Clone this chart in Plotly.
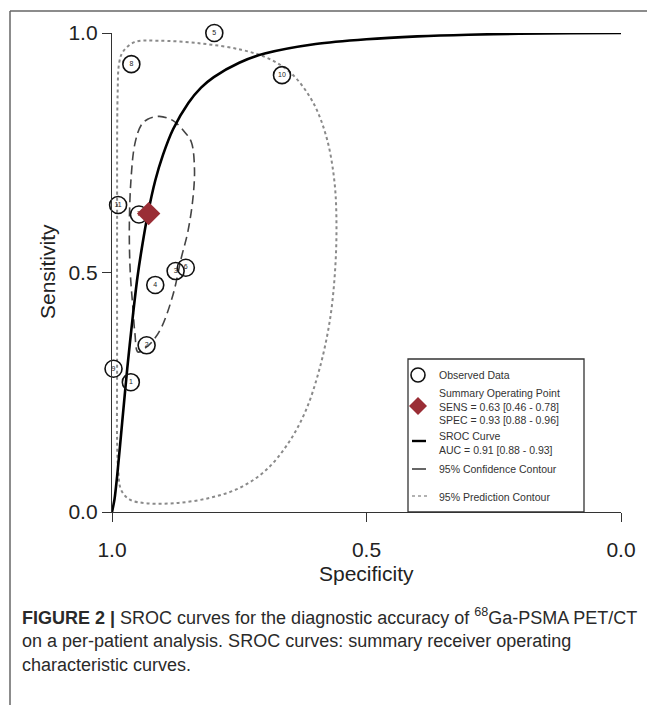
import plotly.graph_objects as go

# ---------------- data ----------------
study_ids = ["1", "2", "3", "4", "5", "6", "7", "8", "9", "10", "11"]
study_spec = [0.963, 0.932, 0.875, 0.915, 0.799, 0.855, 0.947, 0.962, 0.997, 0.666, 0.988]
study_sens = [0.271, 0.348, 0.503, 0.474, 1.000, 0.510, 0.621, 0.935, 0.299, 0.912, 0.641]

summary_spec = [0.928]
summary_sens = [0.623]

sroc_spec = [1.000, 0.995, 0.990, 0.980, 0.970, 0.960, 0.950, 0.940, 0.930, 0.915,
             0.900, 0.880, 0.850, 0.825, 0.800, 0.750, 0.700, 0.600, 0.500,
             0.400, 0.300, 0.200, 0.100, 0.000]
sroc_sens = [0.000, 0.027, 0.074, 0.187, 0.300, 0.400, 0.490, 0.560, 0.620, 0.692,
             0.745, 0.799, 0.854, 0.886, 0.908, 0.938, 0.957, 0.977, 0.987,
             0.993, 0.9965, 0.9984, 0.9995, 1.000]

conf_spec = [0.949, 0.935, 0.920, 0.903, 0.880, 0.864, 0.851, 0.841, 0.838, 0.844,
             0.857, 0.880, 0.907, 0.930, 0.943, 0.955, 0.963, 0.966, 0.964, 0.959,
             0.955, 0.949]
conf_sens = [0.334, 0.342, 0.357, 0.385, 0.454, 0.530, 0.585, 0.655, 0.717, 0.772,
             0.793, 0.817, 0.826, 0.820, 0.807, 0.769, 0.689, 0.586, 0.498, 0.427,
             0.373, 0.334]

pred_spec = [0.990, 0.990, 0.989, 0.986, 0.979, 0.956, 0.910, 0.824, 0.746, 0.693,
             0.647, 0.605, 0.578, 0.563, 0.559, 0.562, 0.572, 0.592, 0.620, 0.656,
             0.700, 0.750, 0.806, 0.870, 0.930, 0.965, 0.982, 0.988, 0.990, 0.990]
pred_sens = [0.300, 0.600, 0.870, 0.937, 0.960, 0.981, 0.984, 0.978, 0.965, 0.947,
             0.915, 0.855, 0.780, 0.690, 0.600, 0.500, 0.400, 0.300, 0.210, 0.140,
             0.085, 0.050, 0.030, 0.019, 0.018, 0.026, 0.046, 0.090, 0.150, 0.300]

tick_vals = [0.0, 0.5, 1.0]
tick_text = ["0.0", "0.5", "1.0"]

legend_labels = [
    "Observed Data",
    "Summary Operating Point<br>SENS = 0.63 [0.46 - 0.78]<br>SPEC = 0.93 [0.88 - 0.96]",
    "SROC Curve<br>AUC = 0.91 [0.88 - 0.93]",
    "95% Confidence Contour",
    "95% Prediction Contour",
]

caption_lines = [
    "<b>FIGURE 2 |</b> SROC curves for the diagnostic accuracy of <sup>68</sup>Ga-PSMA PET/CT",
    "on a per-patient analysis. SROC curves: summary receiver operating",
    "characteristic curves.",
]

# ---------------- layout geometry (pixels) ----------------
W, H = 655, 705
L, R, T, B = 104, 613, 25, 504
FONT = "Liberation Sans, Arial, Helvetica, sans-serif"


def px(x):
    return (x - L) / (R - L)


def py(y):
    return (B - y) / (B - T)


fig = go.Figure()

fig.add_trace(go.Scatter(
    x=pred_spec, y=pred_sens, mode="lines",
    line=dict(color="#8a8a8a", width=2, dash="dot", shape="spline", smoothing=1.0),
    cliponaxis=False, hoverinfo="skip", showlegend=False))

fig.add_trace(go.Scatter(
    x=conf_spec, y=conf_sens, mode="lines",
    line=dict(color="#444444", width=1.6, dash="9px,5px", shape="spline", smoothing=1.0),
    cliponaxis=False, hoverinfo="skip", showlegend=False))

fig.add_trace(go.Scatter(
    x=sroc_spec, y=sroc_sens, mode="lines",
    line=dict(color="#000000", width=2.6, shape="spline", smoothing=0.8),
    cliponaxis=False, hoverinfo="skip", showlegend=False))

fig.add_trace(go.Scatter(
    x=study_spec, y=study_sens, mode="markers+text", text=study_ids,
    textposition="middle center", textfont=dict(size=7, color="#222", family=FONT),
    marker=dict(symbol="circle", size=17, color="rgba(0,0,0,0)", line=dict(color="#111111", width=1.6)),
    cliponaxis=False, showlegend=False))

fig.add_trace(go.Scatter(
    x=summary_spec, y=summary_sens, mode="markers",
    marker=dict(symbol="diamond", size=18, color="#9a2d35", line=dict(width=0)),
    cliponaxis=False, showlegend=False))

shapes = []
annotations = []

# outer frame
FX, FY = 2, 3
shapes.append(dict(type="line", xref="paper", yref="paper", x0=px(FX), x1=px(FX), y0=py(FY), y1=py(710),
                   line=dict(color="#666", width=1.5)))
shapes.append(dict(type="line", xref="paper", yref="paper", x0=px(FX), x1=px(660), y0=py(FY), y1=py(FY),
                   line=dict(color="#666", width=1.5)))

# legend box
BX0, BX1 = 400, 576
shapes.append(dict(type="rect", xref="paper", yref="paper", x0=px(BX0), x1=px(BX1), y0=py(351), y1=py(504),
                   line=dict(color="#333", width=1.3), fillcolor="white", layer="above"))
sx = 410
ccy = 367
shapes.append(dict(type="circle", xref="paper", yref="paper", x0=px(sx - 7), x1=px(sx + 7),
                   y0=py(ccy + 7), y1=py(ccy - 7), line=dict(color="#111", width=1.6), layer="above"))
dx, dy = 9, 9
cy = 398
shapes.append(dict(type="path", xref="paper", yref="paper",
                   path=f"M {px(sx-dx)},{py(cy)} L {px(sx)},{py(cy-dy)} L {px(sx+dx)},{py(cy)} L {px(sx)},{py(cy+dy)} Z",
                   fillcolor="#9a2d35", line=dict(width=0), layer="above"))
shapes.append(dict(type="line", xref="paper", yref="paper", x0=px(sx - 6), x1=px(sx + 8), y0=py(433), y1=py(433),
                   line=dict(color="#000", width=2.4), layer="above"))
shapes.append(dict(type="line", xref="paper", yref="paper", x0=px(sx - 6), x1=px(sx + 8), y0=py(461), y1=py(461),
                   line=dict(color="#333", width=1.5), layer="above"))
shapes.append(dict(type="line", xref="paper", yref="paper", x0=px(sx - 6), x1=px(sx + 9), y0=py(488), y1=py(488),
                   line=dict(color="#999", width=1.5, dash="dot"), layer="above"))

legend_y = [367, 398, 435, 461, 488.5]
for lab, yy in zip(legend_labels, legend_y):
    annotations.append(dict(xref="paper", yref="paper", x=px(430), y=py(yy), text=lab, showarrow=False,
                            xanchor="left", yanchor="middle", align="left", borderpad=0,
                            font=dict(size=10.5, color="#333", family=FONT)))

# axis titles
annotations.append(dict(xref="paper", yref="paper", x=px(358), y=py(565), text="Specificity", showarrow=False,
                        xanchor="center", yanchor="middle", font=dict(size=21, color="#222", family=FONT)))
annotations.append(dict(xref="paper", yref="paper", x=px(39), y=py(264), text="Sensitivity", showarrow=False,
                        textangle=-90, xanchor="center", yanchor="middle", font=dict(size=21, color="#222", family=FONT)))

# caption
cap_y = [608, 633, 657]
for line, yy in zip(caption_lines, cap_y):
    annotations.append(dict(xref="paper", yref="paper", x=px(12), y=py(yy), text=line, showarrow=False,
                            xanchor="left", yanchor="middle", font=dict(size=18, color="#2a2a2a", family=FONT)))

fig.update_layout(
    width=W, height=H,
    margin=dict(l=L, r=W - R, t=T, b=H - B, pad=0),
    paper_bgcolor="white", plot_bgcolor="white",
    shapes=shapes, annotations=annotations,
    showlegend=False,
    xaxis=dict(range=[1, 0], tickvals=tick_vals, ticktext=tick_text, showgrid=False, zeroline=False,
               showline=True, linecolor="#333", linewidth=1.4, ticks="outside", ticklen=9, tickwidth=1.4,
               tickcolor="#333", ticklabelstandoff=10, tickfont=dict(size=21, color="#222", family=FONT)),
    yaxis=dict(range=[0, 1], tickvals=tick_vals, ticktext=tick_text, showgrid=False, zeroline=False,
               showline=True, linecolor="#333", linewidth=1.4, ticks="outside", ticklen=9, tickwidth=1.4,
               tickcolor="#333", tickfont=dict(size=21, color="#222", family=FONT)),
)

fig.write_html("out.html")
